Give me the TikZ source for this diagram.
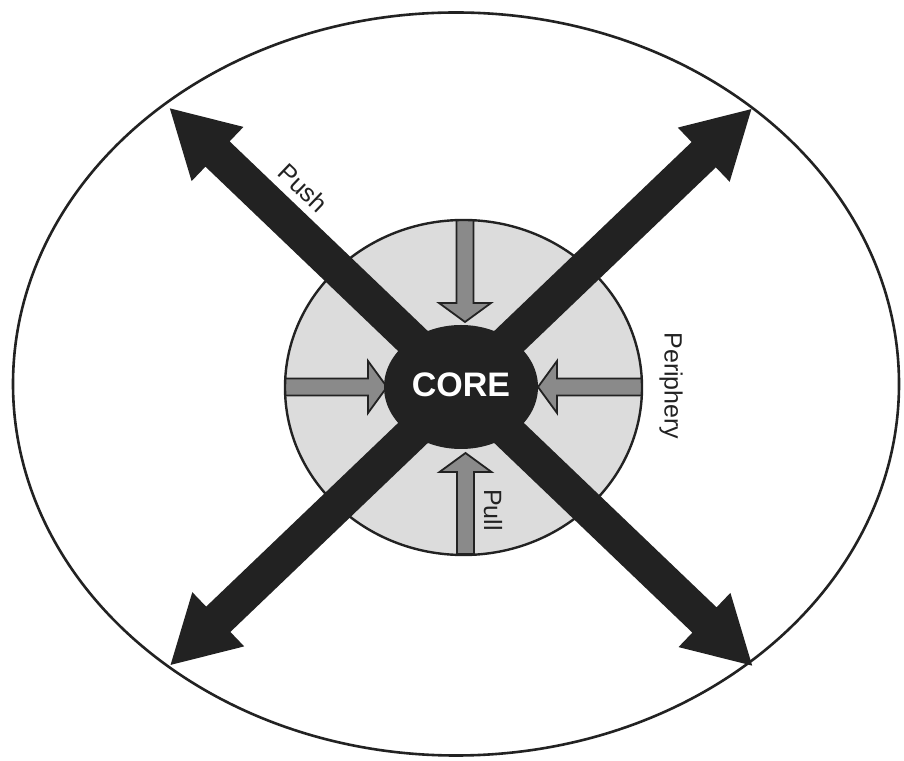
\documentclass[tikz,border=0pt]{standalone}
\usepackage{fontspec}
\setmainfont{Liberation Sans}
\usetikzlibrary{shapes.geometric}
\definecolor{ink}{HTML}{222222}
\definecolor{ring}{HTML}{DCDCDC}
\definecolor{pullgray}{HTML}{8A8A8A}
\tikzset{
  x=1pt, y=1pt,
  pics/pusharrow/.style={code={
    \fill[ink] (-#1,0) -- (-#1+66,37.5) -- (-#1+66,17.5) -- (#1-66,17.5) -- (#1-66,37.5)
      -- (#1,0) -- (#1-66,-37.5) -- (#1-66,-17.5) -- (-#1+66,-17.5) -- (-#1+66,-37.5) -- cycle;
  }},
  pics/pullarrow/.style={code={
    \filldraw[fill=pullgray, draw=ink, line width=1.8pt, line join=miter]
      (0,-8.5) -- (#1-19,-8.5) -- (#1-19,-26) -- (#1,0) -- (#1-19,26) -- (#1-19,8.5) -- (0,8.5) -- cycle;
  }},
  lbl/.style={font=\fontsize{25}{30}\selectfont, text=ink, inner sep=0pt},
}
\begin{document}
\begin{tikzpicture}
\useasboundingbox (0,0) rectangle (904,760);
\fill[white] (0,0) rectangle (904,760);
% outer ellipse
\node[ellipse, draw=ink, line width=2.6pt, minimum width=886pt, minimum height=743pt, inner sep=0pt] (outer) at (456,376) {};
% periphery disc
\node[ellipse, fill=ring, minimum width=357pt, minimum height=335pt, inner sep=0pt] (disc) at (463.5,372.5) {};
% pull arrows
\pic[rotate=-90] at (465,540) {pullarrow=102};
\pic[rotate=90] at (465.5,206) {pullarrow=101};
\pic[rotate=0] at (285,373) {pullarrow=102};
\pic[rotate=180] at (642,373) {pullarrow=104};
% disc outline
\node[ellipse, draw=ink, line width=2.4pt, minimum width=357pt, minimum height=335pt, inner sep=0pt] (discline) at (463.5,372.5) {};
% core
\node[ellipse, fill=ink, minimum width=154pt, minimum height=124pt, inner sep=0pt] (core) at (461,373) {};
% push arrows
\pic[rotate=136.26] at (461,373) {pusharrow=403};
\pic[rotate=43.74] at (461,373) {pusharrow=402};
% texts
\node[font=\bfseries\fontsize{34}{40}\selectfont, text=white, inner sep=0pt] (coretext) at (461,375) {CORE};
\node[lbl, rotate=-43.74] (push) at (303,572) {Push};
\node[lbl, rotate=-90] (periphery) at (671,374) {Periphery};
\node[lbl, rotate=-90] (pull) at (493,250) {Pull};
\end{tikzpicture}
\end{document}
